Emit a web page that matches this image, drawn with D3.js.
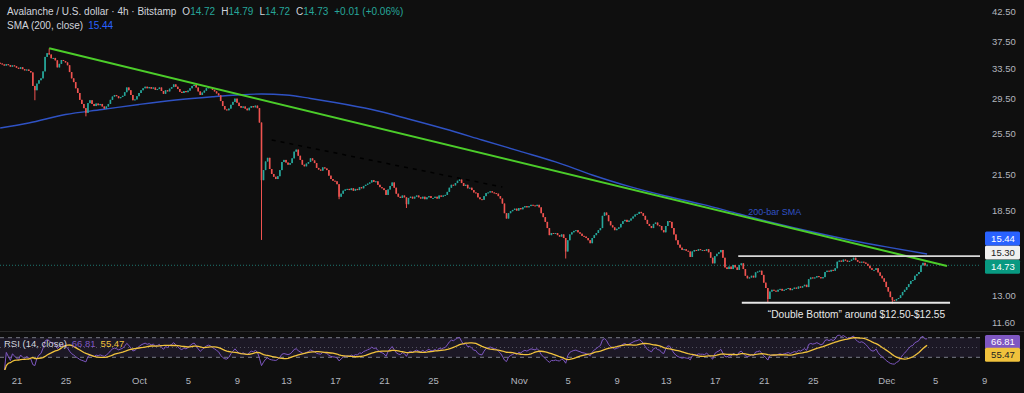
<!DOCTYPE html>
<html><head><meta charset="utf-8">
<script src="https://cdn.jsdelivr.net/npm/d3@7"></script>
<style>html,body{margin:0;padding:0;background:#0f0f0f;overflow:hidden}svg{display:block}</style>
</head><body><svg id="c" width="1024" height="393"></svg>
<script>
// ---------------- DATA ----------------
const firstBarTime = "2025-09-19T16:00:00Z";
const barHours = 4;
const firstOpen = 34.25;
// 4h closes, one row per day
const closes = [
34.15,34.02,
33.85,34.05,33.92,33.70,33.88,33.76,
33.55,33.40,33.62,33.35,33.18,33.30,
33.10,32.90,31.10,30.55,31.40,31.85,
32.10,33.05,35.10,35.65,35.45,34.90,
34.95,34.60,33.60,34.10,34.65,34.50,
34.30,33.90,32.95,32.10,31.60,30.80,
30.20,29.35,28.85,28.35,27.80,28.95,
29.30,28.85,28.60,28.90,28.70,28.85,
28.55,28.30,28.55,28.85,29.35,29.75,
29.95,29.80,29.55,29.70,29.85,30.30,
30.90,30.55,29.95,29.30,29.40,29.80,
30.20,30.55,30.80,31.00,30.80,30.95,
30.75,30.90,30.60,30.70,30.90,30.45,
30.10,30.55,30.40,30.75,30.95,31.30,
31.00,30.70,30.35,30.20,30.45,30.30,
30.50,30.80,31.10,31.25,30.90,30.40,
29.95,30.25,30.50,30.80,30.95,30.85,
30.60,30.40,30.15,29.90,29.20,28.60,
28.20,28.10,28.30,28.75,29.10,29.50,
29.00,28.60,28.40,28.55,28.30,28.10,
28.40,28.60,28.45,28.65,28.35,26.70,
21.00,21.90,22.70,23.05,22.00,21.55,
21.30,21.10,21.35,21.90,22.65,22.85,
22.60,22.40,22.55,23.00,23.65,23.85,
23.25,22.85,22.40,22.25,22.50,22.65,
23.00,22.80,22.55,22.10,21.95,21.85,
22.15,22.05,21.90,21.40,21.10,20.95,
20.90,20.65,19.60,19.85,20.10,20.20,
20.25,20.15,20.30,20.10,20.25,20.15,
20.40,20.30,20.50,20.60,20.70,20.80,
21.00,20.85,20.90,20.60,20.40,20.30,
20.15,19.75,20.20,20.50,20.80,20.35,
19.85,19.60,19.50,19.70,19.55,19.00,
19.50,19.60,19.45,19.60,19.70,19.55,
19.45,19.60,19.40,19.55,19.65,19.50,
19.50,19.60,19.45,19.70,19.60,19.70,
19.75,20.00,20.35,20.60,20.55,20.75,
20.95,21.05,20.75,20.50,20.60,20.30,
20.35,20.15,19.95,19.90,19.55,19.40,
19.35,19.65,19.90,19.95,20.05,19.95,
19.90,19.85,19.65,19.45,19.05,18.30,
17.90,18.30,18.45,18.55,18.65,18.50,
18.70,18.60,18.75,18.85,18.75,18.85,
18.95,18.90,18.85,18.95,18.75,18.30,
18.00,17.65,17.20,16.70,16.85,16.80,
16.85,16.70,16.60,16.75,16.50,15.60,
16.35,16.75,16.90,17.00,17.05,16.90,
16.80,16.65,16.60,16.50,16.35,16.15,
16.50,16.70,16.85,17.05,17.20,18.10,
18.35,18.15,17.70,17.40,17.25,17.05,
17.15,17.25,17.50,17.70,17.80,17.65,
17.75,17.90,18.05,18.20,18.25,18.40,
18.30,18.10,17.80,17.50,17.35,17.20,
17.50,17.60,17.40,17.35,17.05,16.90,
17.35,17.70,17.65,17.20,16.75,16.35,
16.05,15.85,15.70,15.75,15.65,15.60,
15.25,15.60,15.70,15.65,15.75,15.70,
15.70,15.65,15.75,15.55,15.20,14.85,
15.30,15.45,15.55,15.70,15.20,14.60,
14.50,14.65,14.50,14.75,14.60,14.45,
14.75,14.85,14.50,14.10,13.95,14.00,
14.10,14.00,14.30,14.35,14.40,14.15,
13.70,13.40,12.80,13.20,13.30,13.25,
13.20,13.30,13.35,13.25,13.30,13.35,
13.40,13.28,13.35,13.42,13.36,13.48,
13.42,13.50,13.58,13.45,13.90,14.00,
13.95,14.00,14.08,14.02,13.95,14.02,
14.32,14.40,14.35,14.45,14.40,14.55,
14.95,15.02,14.95,15.08,15.02,14.95,
15.00,15.08,15.20,15.05,14.95,14.90,
14.95,14.90,14.82,14.70,14.55,14.45,
14.45,14.55,14.30,14.10,13.95,13.75,
13.45,13.20,12.90,12.75,12.72,12.80,
12.85,13.00,13.18,13.30,13.45,13.62,
13.80,13.85,14.10,14.20,14.32,14.72,
14.88,14.72,14.73
];
const wickHighDates = ["2025-09-23T16:00:00Z","2025-12-04T08:00:00Z"];
const wickHighValues = [36.35, 14.79];
const wickLowDates = ["2025-09-22T12:00:00Z","2025-09-26T16:00:00Z","2025-10-11T00:00:00Z","2025-10-17T08:00:00Z","2025-10-22T20:00:00Z","2025-11-04T20:00:00Z","2025-11-21T08:00:00Z","2025-12-01T12:00:00Z"];
const wickLowValues = [29.30, 27.40, 16.37, 19.40, 18.70, 15.15, 12.60, 12.55];

const smaDates = ["2025-09-19T16:00:00Z","2025-09-22","2025-09-25","2025-09-28","2025-10-01","2025-10-04","2025-10-07","2025-10-09","2025-10-11","2025-10-13","2025-10-15","2025-10-17","2025-10-20","2025-10-23","2025-10-26","2025-10-29","2025-11-01","2025-11-04","2025-11-07","2025-11-10","2025-11-13","2025-11-16","2025-11-19","2025-11-22","2025-11-25","2025-11-28","2025-12-01","2025-12-04T08:00:00Z"];
const smaValues = [26.10,26.65,27.61,28.19,28.79,29.33,29.73,29.95,30.07,29.95,29.52,29.03,28.19,27.10,25.99,24.83,23.72,22.66,21.46,20.46,19.66,18.98,18.24,17.54,16.92,16.37,15.90,15.44];

const trendDates = ["2025-09-23T16:00:00Z","2025-12-05T23:00:00Z"];
const trendValues = [36.38, 14.69];
const dashDates = ["2025-10-11T20:00:00Z","2025-10-30T16:00:00Z"];
const dashValues = [24.83, 20.41];
const resistDates = ["2025-11-18T22:00:00Z","2025-12-09T00:00:00Z"];
const resistValue = 15.30;
const supportDates = ["2025-11-19T05:00:00Z","2025-12-06T05:00:00Z"];
const supportValue = 12.60;

const priceTicks = [42.5,37.5,33.5,29.5,25.5,21.5,18.5,13.0,11.6];
const timeTickDates = ["2025-09-21","2025-09-25","2025-10-01","2025-10-05","2025-10-09","2025-10-13","2025-10-17","2025-10-21","2025-10-25","2025-11-01","2025-11-05","2025-11-09","2025-11-13","2025-11-17","2025-11-21","2025-11-25","2025-12-01","2025-12-05","2025-12-09"];
const timeTickLabels = ["21","25","Oct","5","9","13","17","21","25","Nov","5","9","13","17","21","25","Dec","5","9"];

const lastSma = 15.44, lastRsi = 66.81, lastRsiMa = 55.47;
const header = {title:"Avalanche / U.S. dollar · 4h · Bitstamp", o:"14.72", h:"14.79", l:"14.72", c:"14.73", chg:"+0.01 (+0.06%)"};

// ---------------- SETUP ----------------
const FONT = "'Liberation Sans', Arial, sans-serif";
const C = {bg:"#0f0f0f", up:"#26a69a", down:"#ef5350", text:"#b2b5be", sma:"#2f52c4", trend:"#4ccd2a", rsi:"#7e57c2", rsiMa:"#f0c23c"};
const svg = d3.select("#c");
svg.append("rect").attr("width",1024).attr("height",393).attr("fill",C.bg);

const plotW = 980;
const x = d3.scaleUtc().domain([new Date("2025-09-19T00:00:00Z"), new Date("2025-12-09T00:00:00Z")]).range([-8, 984.25]);
const y = d3.scaleLog().domain([11.6, 42.5]).range([322.6, 11]);
const yR = d3.scaleLinear().domain([30, 70]).range([357.3, 337.7]);

const t0 = new Date(firstBarTime).getTime();
const bars = closes.map((c,i)=>{
  const t = new Date(t0 + i*barHours*3600e3);
  const o = i===0 ? firstOpen : closes[i-1];
  return {t, o, c, h:Math.max(o,c), l:Math.min(o,c)};
});
const key = d=>d.getTime();
const byTime = new Map(bars.map(b=>[key(b.t), b]));
wickHighDates.forEach((d,i)=>{const b=byTime.get(key(new Date(d))); if(b) b.h=Math.max(b.h,wickHighValues[i]);});
wickLowDates.forEach((d,i)=>{const b=byTime.get(key(new Date(d))); if(b) b.l=Math.min(b.l,wickLowValues[i]);});

svg.append("clipPath").attr("id","pc").append("rect").attr("x",0).attr("y",0).attr("width",plotW).attr("height",331);
svg.append("clipPath").attr("id","rc").append("rect").attr("x",0).attr("y",332).attr("width",plotW).attr("height",38);

const main = svg.append("g").attr("clip-path","url(#pc)");

// current price dotted line
main.append("line").attr("x1",0).attr("x2",plotW).attr("y1",y(+header.c)).attr("y2",y(+header.c))
  .attr("stroke",C.up).attr("stroke-width",1).attr("stroke-dasharray","1,2").attr("opacity",0.7);

// SMA 200
main.append("path").datum(smaDates.map((d,i)=>({t:new Date(d), v:smaValues[i]})))
  .attr("fill","none").attr("stroke",C.sma).attr("stroke-width",1.4)
  .attr("d", d3.line().x(d=>x(d.t)).y(d=>y(d.v)).curve(d3.curveMonotoneX));

// candles
const cg = main.append("g");
cg.selectAll("line.w").data(bars).join("line").attr("class","w")
  .attr("x1",d=>x(d.t)).attr("x2",d=>x(d.t)).attr("y1",d=>y(d.h)).attr("y2",d=>y(d.l))
  .attr("stroke",d=>d.c>=d.o?C.up:C.down).attr("stroke-width",1);
cg.selectAll("rect.b").data(bars).join("rect").attr("class","b")
  .attr("x",d=>x(d.t)-0.8).attr("width",1.6)
  .attr("y",d=>Math.min(y(d.o),y(d.c))).attr("height",d=>Math.max(1,Math.abs(y(d.o)-y(d.c))))
  .attr("fill",d=>d.c>=d.o?C.up:C.down);

// trendline
main.append("line").attr("x1",x(new Date(trendDates[0]))).attr("y1",y(trendValues[0]))
  .attr("x2",x(new Date(trendDates[1]))).attr("y2",y(trendValues[1]))
  .attr("stroke",C.trend).attr("stroke-width",2);
// dashed dark line
main.append("line").attr("x1",x(new Date(dashDates[0]))).attr("y1",y(dashValues[0]))
  .attr("x2",x(new Date(dashDates[1]))).attr("y2",y(dashValues[1]))
  .attr("stroke","#000").attr("stroke-width",1.5).attr("stroke-dasharray","4,5");
// horizontal levels
main.append("line").attr("x1",x(new Date(resistDates[0]))).attr("x2",plotW)
  .attr("y1",y(resistValue)).attr("y2",y(resistValue)).attr("stroke","#d8d8d8").attr("stroke-width",1.6);
main.append("line").attr("x1",x(new Date(supportDates[0]))).attr("x2",x(new Date(supportDates[1])))
  .attr("y1",y(supportValue)).attr("y2",y(supportValue)).attr("stroke","#e6e6e6").attr("stroke-width",2);

// annotations
main.append("text").attr("x",x(new Date("2025-11-21T08:00:00Z"))).attr("y",y(supportValue)+15)
  .attr("fill","#e8e8e8").attr("font-family",FONT).attr("font-size",10.2)
  .text("\u201CDouble Bottom\u201D around $12.50-$12.55");
main.append("text").attr("x",x(new Date("2025-11-18T22:00:00Z"))+10).attr("y",215)
  .attr("fill",C.sma).attr("font-family",FONT).attr("font-size",9).text("200-bar SMA");

// pane separator
svg.append("line").attr("x1",0).attr("x2",1024).attr("y1",331.5).attr("y2",331.5).attr("stroke","#2a2a2a");

// ---------------- RSI ----------------
function calcRsi(cl, n){
  const out=[null]; let ag=0, al=0;
  for(let i=1;i<cl.length;i++){
    const ch=cl[i]-cl[i-1], k=Math.min(i,n);
    ag=(ag*(k-1)+Math.max(ch,0))/k; al=(al*(k-1)+Math.max(-ch,0))/k;
    out.push(al===0?100:100-100/(1+ag/al));
  }
  return out;
}
const rsiVals = calcRsi(closes,14);
const rsiMa = rsiVals.map((v,i)=>{ if(v==null) return null; const w=rsiVals.slice(Math.max(1,i-13),i+1); return d3.mean(w); });
const rg = svg.append("g").attr("clip-path","url(#rc)");
rg.append("rect").attr("x",0).attr("width",plotW).attr("y",yR(70)).attr("height",yR(30)-yR(70)).attr("fill","rgba(126,87,194,0.12)");
[70,30].forEach(v=>rg.append("line").attr("x1",0).attr("x2",plotW).attr("y1",yR(v)).attr("y2",yR(v))
  .attr("stroke","#787b86").attr("stroke-dasharray","4,4").attr("stroke-width",1));
rg.append("line").attr("x1",0).attr("x2",plotW).attr("y1",yR(50)).attr("y2",yR(50))
  .attr("stroke","#787b86").attr("stroke-dasharray","1,3").attr("stroke-width",1).attr("opacity",0.6);
const rline = d3.line().defined(d=>d.v!=null).x(d=>x(d.t)).y(d=>yR(d.v));
rg.append("path").datum(bars.map((b,i)=>({t:b.t,v:rsiVals[i]}))).attr("fill","none").attr("stroke",C.rsi).attr("stroke-width",1).attr("d",rline);
rg.append("path").datum(bars.map((b,i)=>({t:b.t,v:rsiMa[i]}))).attr("fill","none").attr("stroke",C.rsiMa).attr("stroke-width",1.3).attr("d",rline);

// ---------------- AXES ----------------
const ax = svg.append("g").attr("transform","translate(990,0)")
  .call(d3.axisRight(y).tickValues(priceTicks).tickFormat(d3.format(".2f")).tickSize(0).tickPadding(2));
ax.select(".domain").remove();
ax.selectAll("text").attr("fill",C.text).attr("font-family",FONT).attr("font-size",9.5);

const tx = svg.append("g").attr("transform","translate(0,374)")
  .call(d3.axisBottom(x).tickValues(timeTickDates.map(d=>new Date(d+"T00:00:00Z"))).tickFormat((d,i)=>timeTickLabels[i]).tickSize(0).tickPadding(3));
tx.select(".domain").remove();
tx.selectAll("text").attr("fill",C.text).attr("font-family",FONT).attr("font-size",9.5);

// price tags
const tags = [
  {v:lastSma, fill:"#2962ff", tc:"#fff"},
  {v:resistValue, fill:"#f0f0f0", tc:"#222"},
  {v:+header.c, fill:"#089981", tc:"#fff"}
].map(d=>({...d, yy:y(d.v)})).sort((a,b)=>b.yy-a.yy);
tags[0].yy += 1.5;
for(let i=1;i<tags.length;i++) tags[i].yy=Math.min(tags[i].yy, tags[i-1].yy-14.2);
const rtags = [{v:lastRsi, fill:C.rsi, tc:"#fff", yy:342},{v:lastRsiMa, fill:C.rsiMa, tc:"#222", yy:354.8}];
[...tags, ...rtags].forEach(d=>{
  const g=svg.append("g");
  g.append("rect").attr("x",985).attr("y",d.yy-7).attr("width",35).attr("height",14).attr("rx",1.5).attr("fill",d.fill);
  g.append("text").attr("x",1003).attr("y",d.yy).attr("dy","0.35em").attr("text-anchor","middle")
    .attr("fill",d.tc).attr("font-family",FONT).attr("font-size",9.5).text(d.v.toFixed(2));
});

// ---------------- HEADER ----------------
const h1 = svg.append("text").attr("x",7).attr("y",15).attr("font-family",FONT).attr("font-size",10).attr("fill","#d1d4dc");
h1.append("tspan").text(header.title);
[["O",header.o],["H",header.h],["L",header.l],["C",header.c]].forEach(([k,v])=>{
  h1.append("tspan").attr("dx",6).attr("fill","#d1d4dc").text(k);
  h1.append("tspan").attr("fill",C.up).text(v);
});
h1.append("tspan").attr("dx",6).attr("fill",C.up).text(header.chg);
const h2 = svg.append("text").attr("x",7).attr("y",29).attr("font-family",FONT).attr("font-size",10).attr("fill","#d1d4dc");
h2.append("tspan").text("SMA (200, close)");
h2.append("tspan").attr("dx",5).attr("fill","#2962ff").text(lastSma.toFixed(2));

const h3 = svg.append("text").attr("x",4).attr("y",347).attr("font-family",FONT).attr("font-size",9.5).attr("fill","#d1d4dc");
h3.append("tspan").text("RSI (14, close)");
h3.append("tspan").attr("dx",5).attr("fill",C.rsi).text(lastRsi.toFixed(2));
h3.append("tspan").attr("dx",5).attr("fill",C.rsiMa).text(lastRsiMa.toFixed(2));
</script></body></html>
